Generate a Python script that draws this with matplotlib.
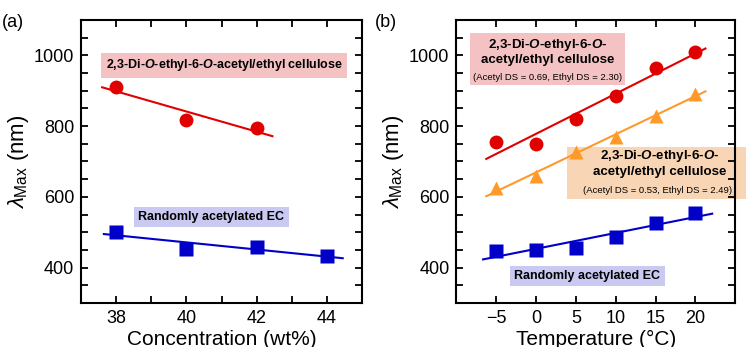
import matplotlib

matplotlib.use("Agg")
import matplotlib.pyplot as plt
import numpy as np
from matplotlib.patches import Rectangle

plt.rcParams["font.family"] = ["Liberation Sans", "DejaVu Sans"]
plt.rcParams["mathtext.fontset"] = "custom"
plt.rcParams["mathtext.rm"] = "Liberation Sans"
plt.rcParams["mathtext.it"] = "Liberation Sans:italic"
plt.rcParams["mathtext.sf"] = "Liberation Sans:italic:bold"

# --- data ------------------------------------------------------------------
conc_red = [38, 40, 42]
lam_conc_red = [910, 818, 796]
conc_blue = [38, 40, 42, 44]
lam_conc_blue = [501, 454, 457, 433]

temp = [-5, 0, 5, 10, 15, 20]
lam_temp_red = [754, 749, 820, 884, 963, 1010]
lam_temp_orange = [624, 659, 728, 769, 829, 891]
lam_temp_blue = [448, 450, 456, 487, 527, 553]

RED = "#e00000"
BLUE = "#0000c8"
ORANGE = "#ff9a2a"
PINK_BOX = "#f4c2c2"
BLUE_BOX = "#c9c9f2"
ORANGE_BOX = "#f8d5b4"

label_ethyl = r"2,3-Di-$\mathsf{O}$-ethyl-6-$\mathsf{O}$-acetyl/ethyl cellulose"
label_ethyl_1 = r"2,3-Di-$\mathsf{O}$-ethyl-6-$\mathsf{O}$-"
label_ethyl_2 = "acetyl/ethyl cellulose"
label_random = "Randomly acetylated EC"
ds_red = "(Acetyl DS = 0.69, Ethyl DS = 2.30)"
ds_orange = "(Acetyl DS = 0.53, Ethyl DS = 2.49)"


def fit_line(ax, x, y, x0, x1, color):
    k, b = np.polyfit(x, y, 1)
    xs = np.array([x0, x1])
    ax.plot(xs, k * xs + b, color=color, lw=1.5, zorder=2)


def style_axes(ax):
    for s in ax.spines.values():
        s.set_linewidth(1.5)
    ax.tick_params(which="both", direction="in", top=True, right=True,
                   width=1.3, length=5, labelsize=13, pad=5)
    ax.set_ylim(300, 1100)
    ax.set_yticks([400, 600, 800, 1000])
    ax.set_yticks(np.arange(350, 1100, 50), minor=True)
    ax.set_ylabel(r"$\lambda_{\mathrm{Max}}$ (nm)", fontsize=16, labelpad=2)


fig = plt.figure(figsize=(7.46, 3.47), dpi=100)
ax1 = fig.add_axes([0.1086, 0.1268, 0.3767, 0.8156])
ax2 = fig.add_axes([0.6117, 0.1268, 0.374, 0.8156])

# --- (a) concentration ------------------------------------------------------
style_axes(ax1)
ax1.set_xlim(37, 45)
ax1.set_xticks([38, 40, 42, 44])
ax1.set_xticks(np.arange(37, 46, 1), minor=True)
fit_line(ax1, conc_red, lam_conc_red, 37.6, 42.45, RED)
fit_line(ax1, conc_blue, lam_conc_blue, 37.65, 44.45, BLUE)
ax1.plot(conc_red, lam_conc_red, "o", color=RED, ms=10, mec="none", zorder=3)
ax1.plot(conc_blue, lam_conc_blue, "s", color=BLUE, ms=10, mec="none", zorder=3)
ax1.set_xlabel("Concentration (wt%)", fontsize=15, labelpad=2)
ax1.text(41.08, 972, label_ethyl, fontsize=9, fontweight="bold",
         ha="center", va="center",
         bbox=dict(boxstyle="square,pad=0.35", fc=PINK_BOX, ec="none"))
ax1.text(40.71, 543, label_random, fontsize=9, fontweight="bold",
         ha="center", va="center",
         bbox=dict(boxstyle="square,pad=0.35", fc=BLUE_BOX, ec="none"))
fig.text(0.002, 0.935, "(a)", fontsize=13, ha="left", va="center")

# --- (b) temperature --------------------------------------------------------
style_axes(ax2)
ax2.set_xlim(-10, 25)
ax2.set_xticks([-5, 0, 5, 10, 15, 20])
ax2.set_xticklabels(["\u22125", "0", "5", "10", "15", "20"])
fit_line(ax2, temp, lam_temp_red, -6.25, 21.25, RED)
fit_line(ax2, temp, lam_temp_orange, -6.25, 21.25, ORANGE)
fit_line(ax2, temp, lam_temp_blue, -6.65, 22.1, BLUE)
ax2.plot(temp, lam_temp_red, "o", color=RED, ms=10, mec="none", zorder=3)
ax2.plot(temp, lam_temp_orange, "^", color=ORANGE, ms=10.5, mec="none", zorder=3)
ax2.plot(temp, lam_temp_blue, "s", color=BLUE, ms=10, mec="none", zorder=3)
ax2.set_xlabel("Temperature (\u00b0C)", fontsize=15, labelpad=2)

ax2.add_patch(Rectangle((0.048, 0.769), 0.556, 0.184, transform=ax2.transAxes,
                        fc=PINK_BOX, ec="none", zorder=1))
ax2.text(0.327, 0.912, label_ethyl_1, transform=ax2.transAxes, fontsize=9.6,
         fontweight="bold", ha="center", va="center")
ax2.text(0.327, 0.859, label_ethyl_2, transform=ax2.transAxes, fontsize=9.6,
         fontweight="bold", ha="center", va="center")
ax2.text(0.327, 0.798, ds_red, transform=ax2.transAxes, fontsize=6.8,
         ha="center", va="center")

ax2.add_patch(Rectangle((0.398, 0.367), 0.8, 0.185, transform=ax2.transAxes,
                        fc=ORANGE_BOX, ec="none", zorder=1, clip_on=False))
ax2.text(0.73, 0.519, label_ethyl_1, transform=ax2.transAxes, fontsize=9.6,
         fontweight="bold", ha="center", va="center", clip_on=False)
ax2.text(0.73, 0.462, label_ethyl_2, transform=ax2.transAxes, fontsize=9.6,
         fontweight="bold", ha="center", va="center", clip_on=False)
ax2.text(0.723, 0.399, ds_orange, transform=ax2.transAxes, fontsize=6.8,
         ha="center", va="center", clip_on=False)

ax2.text(0.469, 0.095, label_random, transform=ax2.transAxes, fontsize=9,
         fontweight="bold", ha="center", va="center",
         bbox=dict(boxstyle="square,pad=0.35", fc=BLUE_BOX, ec="none"))
fig.text(0.502, 0.935, "(b)", fontsize=13, ha="left", va="center")

fig.savefig("out.png", dpi=100)
